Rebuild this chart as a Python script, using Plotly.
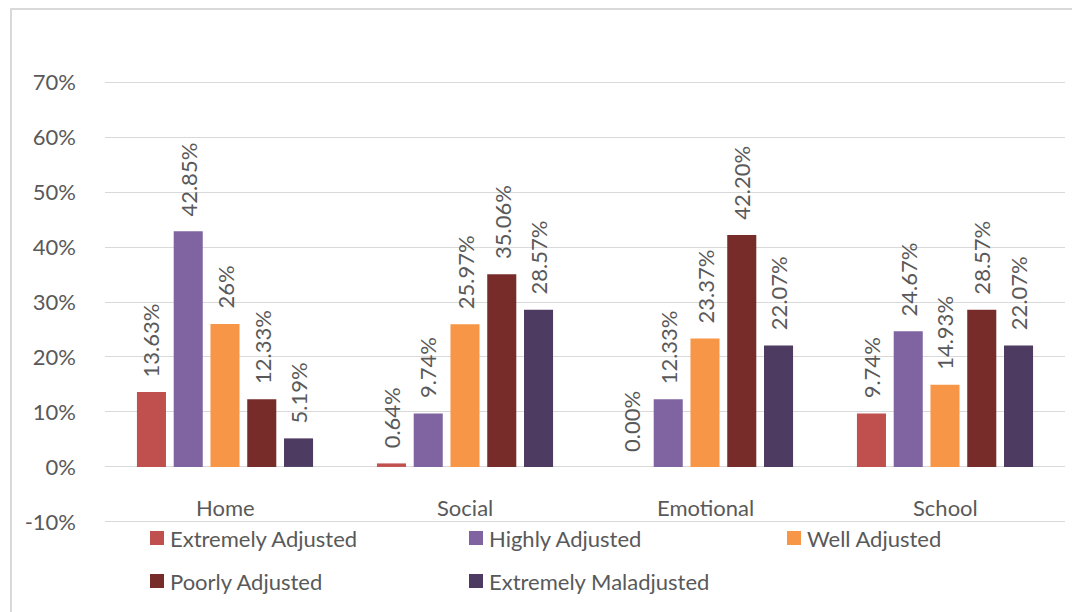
import plotly.graph_objects as go

# Adjustment areas and the five adjustment levels (percent of respondents)
categories = ["Home", "Social", "Emotional", "School"]

series_names = [
    "Extremely Adjusted",
    "Highly Adjusted",
    "Well Adjusted",
    "Poorly Adjusted",
    "Extremely Maladjusted",
]
extremely_adjusted = [13.63, 0.64, 0.00, 9.74]
highly_adjusted = [42.85, 9.74, 12.33, 24.67]
well_adjusted = [26, 25.97, 23.37, 14.93]
poorly_adjusted = [12.33, 35.06, 42.20, 28.57]
extremely_maladjusted = [5.19, 28.57, 22.07, 22.07]

extremely_adjusted_labels = ["13.63%", "0.64%", "0.00%", "9.74%"]
highly_adjusted_labels = ["42.85%", "9.74%", "12.33%", "24.67%"]
well_adjusted_labels = ["26%", "25.97%", "23.37%", "14.93%"]
poorly_adjusted_labels = ["12.33%", "35.06%", "42.20%", "28.57%"]
extremely_maladjusted_labels = ["5.19%", "28.57%", "22.07%", "22.07%"]

ytick_values = [-10, 0, 10, 20, 30, 40, 50, 60, 70]
ytick_labels = ["-10%", "0%", "10%", "20%", "30%", "40%", "50%", "60%", "70%"]

series_values = [extremely_adjusted, highly_adjusted, well_adjusted,
                 poorly_adjusted, extremely_maladjusted]
series_labels = [extremely_adjusted_labels, highly_adjusted_labels,
                 well_adjusted_labels, poorly_adjusted_labels,
                 extremely_maladjusted_labels]
colors = ["#C0504D", "#8064A2", "#F79646", "#772C2A", "#4D3B62"]

FONT = "Lato"
TEXT_COLOR = "#595959"
GRID_COLOR = "#D9D9D9"
FONT_SIZE = 22

W, H = 1072, 612
# axis range padded a touch so the -10% and 70% gridlines are drawn
Y_MIN, Y_MAX = -10.2, 70.2
M_L, M_R, M_T, M_B = 105, 7, 81, 89
PLOT_W = W - M_L - M_R
PLOT_H = H - M_T - M_B

BARGAP = 0.234
BARGROUPGAP = 0.21


def px_x(px):
    return (px - M_L) / PLOT_W


def px_y(py):
    return (H - M_B - py) / PLOT_H


x_pos = list(range(len(categories)))

fig = go.Figure()
for name, vals, col in zip(series_names, series_values, colors):
    fig.add_trace(go.Bar(x=x_pos, y=vals, name=name, marker_color=col,
                         marker_line_width=0, showlegend=False))

annotations = []

# Value labels, rotated, sitting above each bar
n = len(series_names)
group_w = 1 - BARGAP
slot = group_w / n
for i, (vals, labs) in enumerate(zip(series_values, series_labels)):
    for c, (v, lab) in enumerate(zip(vals, labs)):
        xc = c - group_w / 2 + slot * (i + 0.5)
        annotations.append(dict(
            x=xc, y=v, xref="x", yref="y", text=lab, showarrow=False,
            textangle=-90, xanchor="center", yanchor="bottom", yshift=13,
            font=dict(family=FONT, size=FONT_SIZE, color=TEXT_COLOR)))

# Category names between the 0% and -10% lines
for c, cat in enumerate(categories):
    annotations.append(dict(
        x=c, y=-7.3, xref="x", yref="y", text=cat, showarrow=False,
        xanchor="center", yanchor="middle",
        font=dict(family=FONT, size=FONT_SIZE, color=TEXT_COLOR)))

# Legend laid out in a 3-column grid under the plot
legend_cols = [150, 469, 787]
legend_rows = [538, 581]
shapes = []
for k, (name, col) in enumerate(zip(series_names, colors)):
    r, cidx = divmod(k, 3)
    lx, ly = legend_cols[cidx], legend_rows[r]
    shapes.append(dict(type="rect", xref="paper", yref="paper",
                       x0=px_x(lx), x1=px_x(lx + 14),
                       y0=px_y(ly + 7), y1=px_y(ly - 7),
                       fillcolor=col, line=dict(width=0)))
    annotations.append(dict(
        x=px_x(lx + 18), y=px_y(ly), xref="paper", yref="paper", text=name,
        showarrow=False, xanchor="left", yanchor="middle",
        font=dict(family=FONT, size=FONT_SIZE, color=TEXT_COLOR)))

# Chart frame
shapes.append(dict(type="rect", xref="paper", yref="paper",
                   x0=px_x(11), x1=px_x(1085), y0=px_y(630), y1=px_y(9),
                   line=dict(color=GRID_COLOR, width=2), layer="below"))

fig.update_layout(
    width=W, height=H,
    margin=dict(l=M_L, r=M_R, t=M_T, b=M_B),
    paper_bgcolor="white", plot_bgcolor="white",
    barmode="group", bargap=BARGAP, bargroupgap=BARGROUPGAP,
    font=dict(family=FONT, size=FONT_SIZE, color=TEXT_COLOR),
    annotations=annotations, shapes=shapes,
    xaxis=dict(range=[-0.5, len(categories) - 0.5], showticklabels=False,
               showgrid=False, zeroline=False, showline=False,
               fixedrange=True),
    yaxis=dict(range=[Y_MIN, Y_MAX], tickvals=ytick_values,
               ticktext=ytick_labels,
               showgrid=True, gridcolor=GRID_COLOR, gridwidth=1,
               zeroline=True, zerolinecolor=GRID_COLOR, zerolinewidth=1,
               showline=False, ticks="", ticklabelstandoff=28,
               tickfont=dict(family=FONT, size=FONT_SIZE, color=TEXT_COLOR),
               fixedrange=True),
)

fig.write_html("out.html")
